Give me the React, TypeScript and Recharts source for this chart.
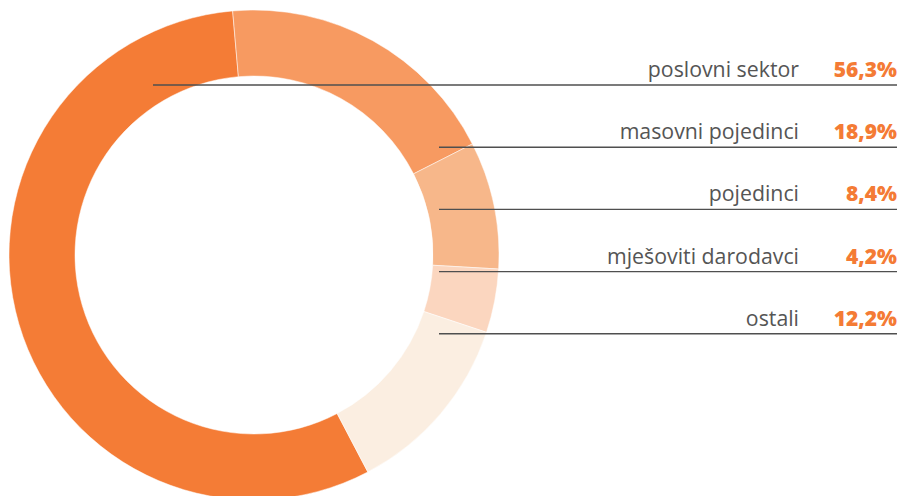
import React from "react"
import { PieChart, Pie, Cell } from "recharts"

// shares of donations by donor type (percent)
const categories = ["poslovni sektor", "masovni pojedinci", "pojedinci", "mješoviti darodavci", "ostali"]
const shares = [56.3, 18.9, 8.4, 4.2, 12.2]
const colors = ["#F47C36", "#F79A61", "#F7B78A", "#FBD6BF", "#FBEEE1"]

const data = categories.map((name, i) => ({ name, value: shares[i] }))

const fmt = (v: number) => `${v.toFixed(1).replace(".", ",")}%`

// right-hand annotation rows
const ROW_TOP = 85
const ROW_STEP = 62.2
const LINE_END = 897
const NAME_RIGHT = 799

function RowLabel(props: any) {
  const { index, name, value } = props
  const y = ROW_TOP + ROW_STEP * index
  const x1 = index === 0 ? 153 : 439
  return (
    <g>
      <line x1={x1} x2={LINE_END} y1={y} y2={y} stroke="#4f4f4f" strokeWidth={1.4} />
      <text
        x={NAME_RIGHT}
        y={y - 8}
        textAnchor="end"
        fill="#555555"
        fontSize={21.3}
        fontFamily="'Open Sans', sans-serif"
      >
        {name}
      </text>
      <text
        x={LINE_END}
        y={y - 8}
        textAnchor="end"
        fill="#F47B35"
        fontSize={21}
        fontWeight={800}
        fontFamily="'Open Sans', sans-serif"
      >
        {fmt(value)}
      </text>
    </g>
  )
}

export default function App() {
  // first slice (poslovni) starts so that masovni begins ~5° left of top
  const start = 95 + 3.6 * shares[0]
  return (
    <div style={{ position: "absolute", left: 0, top: 0, width: 901, height: 496, background: "#fff" }}>
      <PieChart width={901} height={496} margin={{ top: 0, right: 0, bottom: 0, left: 0 }}>
        <Pie
          data={data}
          dataKey="value"
          nameKey="name"
          cx={254}
          cy={255}
          innerRadius={179}
          outerRadius={245}
          startAngle={start}
          endAngle={start - 360}
          stroke="#ffffff"
          strokeWidth={0.5}
          label={RowLabel}
          labelLine={false}
          isAnimationActive={false}
        >
          {data.map((d, i) => (
            <Cell key={d.name} fill={colors[i]} />
          ))}
        </Pie>
      </PieChart>
    </div>
  )
}
